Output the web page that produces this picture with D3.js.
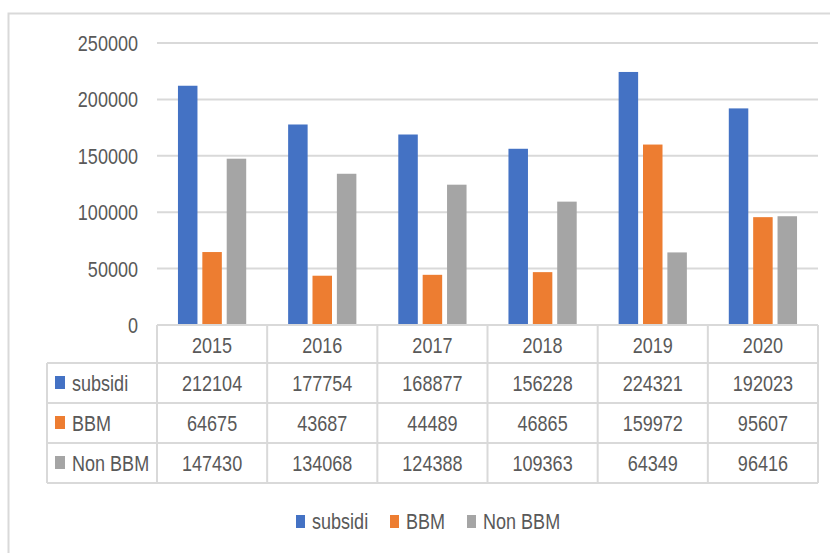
<!DOCTYPE html>
<html>
<head>
<meta charset="utf-8">
<script src="https://cdn.jsdelivr.net/npm/d3@7"></script>
<style>
  body { margin: 0; background: #fff; }
  text { font-family: "Liberation Sans", Arial, sans-serif; fill: #595959; font-size: 22px; }
</style>
</head>
<body>
<svg width="830" height="553"></svg>
<script>
var years = ["2015", "2016", "2017", "2018", "2019", "2020"];
var seriesNames = ["subsidi", "BBM", "Non BBM"];
var subsidi = [212104, 177754, 168877, 156228, 224321, 192023];
var bbm = [64675, 43687, 44489, 46865, 159972, 95607];
var nonBbm = [147430, 134068, 124388, 109363, 64349, 96416];
var yTicks = [0, 50000, 100000, 150000, 200000, 250000];
var colors = ["#4472C4", "#ED7D31", "#A5A5A5"];

var values = [subsidi, bbm, nonBbm];

var svg = d3.select("svg"),
    plot = {left: 157, right: 818, top: 43, bottom: 325},
    rowH = 40,
    labelLeft = 47,
    squeeze = 0.82;   // narrow look of the original font

// text helper: narrow glyphs via horizontal scale
function label(parent, xx, yy, txt, anchor) {
  return parent.append("text")
    .attr("transform", "translate(" + xx + "," + yy + ") scale(" + squeeze + ",1)")
    .attr("dy", "0.36em")
    .attr("text-anchor", anchor || "start")
    .text(txt);
}

// outer chart border
svg.append("rect")
    .attr("x", 8.5).attr("y", 13.5)
    .attr("width", 840).attr("height", 560)
    .attr("fill", "none")
    .attr("stroke", "#d9d9d9")
    .attr("stroke-width", 2);

var x = d3.scaleBand().domain(years).range([plot.left, plot.right]);
var xs = d3.scaleBand().domain(seriesNames).range([0, x.bandwidth()])
    .paddingInner(0.2).paddingOuter(0.86);
var y = d3.scaleLinear().domain([0, 250000]).range([plot.bottom, plot.top]);

// gridlines
svg.append("g").selectAll("line")
  .data(yTicks.slice(1))
  .enter().append("line")
    .attr("x1", plot.left).attr("x2", plot.right)
    .attr("y1", function(d) { return y(d); })
    .attr("y2", function(d) { return y(d); })
    .attr("stroke", "#d9d9d9")
    .attr("stroke-width", 2);

// y axis labels
var yg = svg.append("g");
yTicks.forEach(function(t) { label(yg, 138, y(t), d3.format("d")(t), "end"); });

// bars
var groups = svg.append("g").selectAll("g")
  .data(years)
  .enter().append("g")
    .attr("transform", function(d) { return "translate(" + x(d) + ",0)"; });

groups.selectAll("rect")
  .data(function(d, i) {
    return seriesNames.map(function(s, j) { return {name: s, value: values[j][i], k: j}; });
  })
  .enter().append("rect")
    .attr("x", function(d) { return xs(d.name); })
    .attr("y", function(d) { return y(d.value); })
    .attr("width", xs.bandwidth())
    .attr("height", function(d) { return plot.bottom - y(d.value); })
    .attr("fill", function(d) { return colors[d.k]; });

// data table
var table = svg.append("g");
var gridColor = "#d9d9d9";

function hline(x1, x2, yy) {
  table.append("line").attr("x1", x1).attr("x2", x2).attr("y1", yy).attr("y2", yy)
    .attr("stroke", gridColor).attr("stroke-width", 2);
}
function vline(xx, y1, y2) {
  table.append("line").attr("x1", xx).attr("x2", xx).attr("y1", y1).attr("y2", y2)
    .attr("stroke", gridColor).attr("stroke-width", 2);
}

var rowY = function(r) { return plot.bottom + 38 + r * rowH; };

hline(plot.left, plot.right, plot.bottom);
for (var r = 0; r < 4; r++) hline(labelLeft, plot.right, rowY(r));
vline(labelLeft, rowY(0), rowY(3));
years.forEach(function(yr) { vline(x(yr), plot.bottom, rowY(3)); });
vline(plot.right, plot.bottom, rowY(3));

// header row
years.forEach(function(yr) {
  label(table, x(yr) + x.bandwidth() / 2, (plot.bottom + rowY(0)) / 2 + 1, yr, "middle");
});

seriesNames.forEach(function(s, j) {
  var mid = rowY(j) + rowH / 2;
  table.append("rect")
    .attr("x", 55).attr("y", mid - 7)
    .attr("width", 10).attr("height", 13)
    .attr("fill", colors[j]);
  label(table, 72, mid, s);
  values[j].forEach(function(v, i) {
    label(table, x(years[i]) + x.bandwidth() / 2, mid, v, "middle");
  });
});

// legend
var legendX = [296, 390, 467];
var legend = svg.append("g");
seriesNames.forEach(function(s, i) {
  legend.append("rect")
    .attr("x", legendX[i]).attr("y", 515)
    .attr("width", 9).attr("height", 13)
    .attr("fill", colors[i]);
  label(legend, legendX[i] + 16, 521, s);
});
</script>
</body>
</html>
